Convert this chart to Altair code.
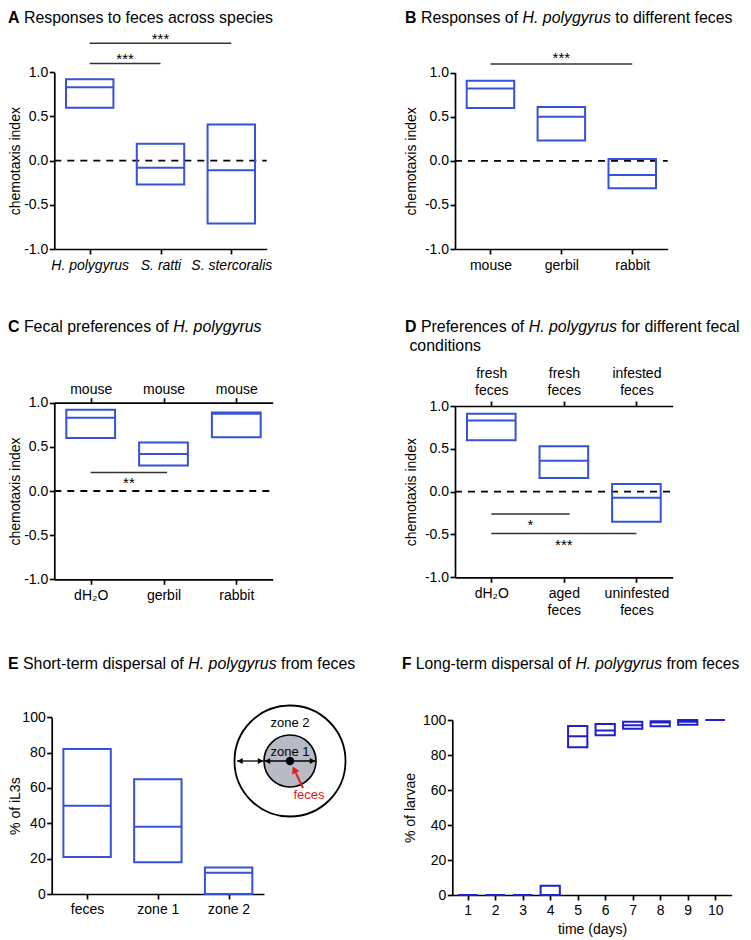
import json
import altair as alt
import pandas as pd

# ---------------- data ----------------
CI_TICKS = [-1.0, -0.5, 0.0, 0.5, 1.0]
PCT_TICKS = [0, 20, 40, 60, 80, 100]

A_labels = ["H. polygyrus", "S. ratti", "S. stercoralis"]
A_low = [0.60, -0.27, -0.71]
A_med = [0.83, -0.08, -0.11]
A_high = [0.92, 0.19, 0.41]
A_sig_from = [0, 0]
A_sig_to = [2, 1]
A_sig_level = [1.33, 1.10]
A_sig_text = ["***", "***"]

B_labels = ["mouse", "gerbil", "rabbit"]
B_low = [0.60, 0.23, -0.31]
B_med = [0.82, 0.50, -0.16]
B_high = [0.91, 0.61, 0.02]
B_sig_from = [0]
B_sig_to = [2]
B_sig_level = [1.10]
B_sig_text = ["***"]

C_labels = ["dH\u2082O", "gerbil", "rabbit"]
C_top_labels = ["mouse", "mouse", "mouse"]
C_low = [0.60, 0.29, 0.61]
C_med = [0.83, 0.42, 0.875]
C_high = [0.92, 0.55, 0.89]
C_sig_from = [0]
C_sig_to = [1.05]
C_sig_level = [0.21]
C_sig_text = ["**"]

D_labels = ["dH\u2082O", "aged\nfeces", "uninfested\nfeces"]
D_top_labels = ["fresh\nfeces", "fresh\nfeces", "infested\nfeces"]
D_low = [0.60, 0.16, -0.35]
D_med = [0.83, 0.36, -0.07]
D_high = [0.91, 0.53, 0.09]
D_sig_from = [0, 0]
D_sig_to = [1.08, 2]
D_sig_level = [-0.26, -0.49]
D_sig_text = ["*", "***"]

E_labels = ["feces", "zone 1", "zone 2"]
E_low = [21, 18, 0]
E_med = [50, 38, 12]
E_high = [82, 65, 15]

F_days = [1, 2, 3, 4, 5, 6, 7, 8, 9, 10]
F_low = [0, 0, 0, 0, 84.5, 91.3, 95.0, 96.5, 97.3, 100]
F_med = [0, 0, 0, 0, 90.7, 94.0, 97.0, 98.6, 99.0, 100]
F_high = [0, 0, 0, 5.3, 96.6, 97.7, 99.0, 99.3, 100, 100]

# ---------------- styling / layout ----------------
FONT = "Liberation Sans"
W, H = 735, 930
BLUE = "#3552d8"
BLUE_F = "#1f1fcf"

AX = dict(labelFont=FONT, labelFontSize=14, labelColor="black", tickColor="black",
          domainColor="black", domainWidth=1.7, tickWidth=1.7, tickSize=5, grid=False,
          labelOverlap=False, labelFlush=False, titleFont=FONT, titleFontSize=14,
          titleFontWeight="normal", titleColor="black")

CI_EXPR = "datum.value < 0 ? '-' + format(-datum.value, '.1f') : format(datum.value, '.1f')"


def cat_expr(labels):
    nested = [l.split("\n") for l in labels]
    return json.dumps(nested, ensure_ascii=False) + "[datum.value]"


def panel(cats, low, med, high, labels, xdom, xr, ydom, yr, yvals, ylabel_expr, ytitle,
          ytitle_cx, hw, color, xpad, italic=False, top_labels=None, top_pad=1.0,
          zero=True, sig=None, sig_dy=0, xtitle=None, xtitle_pos=None, extra=None):
    xs = alt.Scale(domain=xdom, range=xr, nice=False, zero=False)
    ys = alt.Scale(domain=ydom, range=yr, nice=False, zero=False)
    df = pd.DataFrame({"c": cats, "lo": low, "med": med, "hi": high})
    df["x0"] = df["c"] - hw
    df["x1"] = df["c"] + hw

    xk = dict(orient="bottom", offset=yr[0] - H, values=list(cats), labelPadding=xpad,
              labelLineHeight=17, **AX)
    if labels is not None:
        xk["labelExpr"] = cat_expr(labels)
    else:
        xk["format"] = "d"
    if italic:
        xk["labelFontStyle"] = "italic"
    if xtitle is not None:
        xk.update(titleX=xtitle_pos[0], titleY=xtitle_pos[1], titleBaseline="middle",
                  titleAlign="center")
    xaxis = alt.Axis(**xk)

    yk = dict(orient="left", offset=-xr[0], values=yvals, labelPadding=1.5,
              titleX=ytitle_cx - xr[0], titleY=(yr[0] + yr[1]) / 2, titleAngle=270,
              titleBaseline="middle", titleAlign="center", **AX)
    if ylabel_expr:
        yk["labelExpr"] = ylabel_expr
    else:
        yk["format"] = "d"
    yaxis = alt.Axis(**yk)

    layers = []
    if zero:
        zdf = pd.DataFrame({"a": [xdom[0]], "b": [xdom[1]], "y": [0.0]})
        layers.append(alt.Chart(zdf).mark_rule(color="black", strokeWidth=1.8, strokeDash=[7, 6]).encode(
            x=alt.X("a:Q", scale=xs, axis=None), x2="b:Q", y=alt.Y("y:Q", scale=ys, axis=None)))

    layers.append(alt.Chart(df).mark_rect(fillOpacity=0, stroke=color, strokeWidth=2).encode(
        x=alt.X("x0:Q", scale=xs, axis=xaxis, title=xtitle), x2="x1:Q",
        y=alt.Y("lo:Q", scale=ys, axis=yaxis, title=ytitle), y2="hi:Q"))

    if top_labels is not None:
        taxis = alt.Axis(orient="top", offset=-yr[1], values=list(cats), labelPadding=top_pad,
                         labelLineHeight=17, labelExpr=cat_expr(top_labels), **AX)
        mx = alt.X("x0:Q", scale=xs, axis=taxis, title=None)
    else:
        mx = alt.X("x0:Q", scale=xs, axis=None)
    layers.append(alt.Chart(df).mark_rule(color=color, strokeWidth=2).encode(
        x=mx, x2="x1:Q", y=alt.Y("med:Q", scale=ys, axis=None)))

    if sig is not None:
        sdf = pd.DataFrame({"a": sig[0], "b": sig[1], "lvl": sig[2], "txt": sig[3]})
        sdf["mid"] = (sdf["a"] + sdf["b"]) / 2
        layers.append(alt.Chart(sdf).mark_rule(color="#333333", strokeWidth=1.5).encode(
            x=alt.X("a:Q", scale=xs, axis=None), x2="b:Q", y=alt.Y("lvl:Q", scale=ys, axis=None)))
        layers.append(alt.Chart(sdf).mark_text(font=FONT, fontSize=15, color="black",
                                               baseline="alphabetic", align="center", dy=sig_dy).encode(
            x=alt.X("mid:Q", scale=xs, axis=None), y=alt.Y("lvl:Q", scale=ys, axis=None), text="txt:N"))
    if extra is not None:
        layers.extend(extra(xs, ys))
    return alt.layer(*layers).resolve_axis(x="independent", y="independent")


# ---------------- panel geometry (canvas px) ----------------
CAT3 = [0, 1, 2]
DOM3 = [-0.5, 2.5]

pA = panel(CAT3, A_low, A_med, A_high, A_labels, DOM3, [46.3, 258.7], [-1, 1], [241.0, 64.3],
           CI_TICKS, CI_EXPR, "chemotaxis index", 7.5, 0.335, BLUE, 4, italic=True,
           sig=(A_sig_from, A_sig_to, A_sig_level, A_sig_text), sig_dy=1)
pB = panel(CAT3, B_low, B_med, B_high, B_labels, DOM3, [447.0, 659.7], [-1, 1], [241.0, 64.7],
           CI_TICKS, CI_EXPR, "chemotaxis index", 403.7, 0.335, BLUE, 4,
           sig=(B_sig_from, B_sig_to, B_sig_level, B_sig_text), sig_dy=-1)
pC = panel(CAT3, C_low, C_med, C_high, C_labels, DOM3, [46.3, 264.7], [-1, 1], [571.3, 394.7],
           CI_TICKS, CI_EXPR, "chemotaxis index", 7.5, 0.335, BLUE, 4, top_labels=C_top_labels,
           top_pad=1, sig=(C_sig_from, C_sig_to, C_sig_level, C_sig_text), sig_dy=16)
pD = panel(CAT3, D_low, D_med, D_high, D_labels, DOM3, [447.0, 664.7], [-1, 1], [569.3, 398.0],
           CI_TICKS, CI_EXPR, "chemotaxis index", 403.7, 0.335, BLUE, 4, top_labels=D_top_labels,
           top_pad=20.5, sig=(D_sig_from, D_sig_to, D_sig_level, D_sig_text), sig_dy=16)

E_XR, E_YR = [43.7, 256.0], [886.0, 709.3]


def e_diagram(xs, ys):
    kx = (E_XR[1] - E_XR[0]) / (DOM3[1] - DOM3[0])
    ky = (E_YR[0] - E_YR[1]) / 100.0
    ccx, ccy = 282.0, 753.0  # canvas centre of the sketch
    cx = DOM3[0] + (ccx - E_XR[0]) / kx
    cy = (E_YR[0] - ccy) / ky

    def ux(p):
        return cx + p / kx

    def uy(p):
        return cy - p / ky

    X = lambda f: alt.X(f, scale=xs, axis=None)
    Y = lambda f: alt.Y(f, scale=ys, axis=None)
    c = pd.DataFrame({"x": [cx], "y": [cy]})
    out = [
        alt.Chart(c).mark_point(shape="circle", size=12321, filled=False, color="black",
                                strokeWidth=1.8, opacity=1).encode(x=X("x:Q"), y=Y("y:Q")),
        alt.Chart(c).mark_point(shape="circle", size=2704, filled=True, fill="#b8bac6",
                                stroke="black", strokeWidth=1.6, opacity=1).encode(x=X("x:Q"), y=Y("y:Q")),
    ]
    arr = pd.DataFrame({"a": [ux(-53), ux(-25.5)], "b": [ux(-26.5), ux(25.5)], "y": [cy, cy]})
    out.append(alt.Chart(arr).mark_rule(color="black", strokeWidth=1.3).encode(
        x=X("a:Q"), x2="b:Q", y=Y("y:Q")))
    heads = pd.DataFrame({"x": [ux(-50), ux(-29.5), ux(-22.5), ux(22.5)], "y": [cy] * 4,
                          "s": ["triangle-left", "triangle-right", "triangle-left", "triangle-right"]})
    out.append(alt.Chart(heads).mark_point(filled=True, color="black", size=38, opacity=1).encode(
        x=X("x:Q"), y=Y("y:Q"), shape=alt.Shape("s:N", scale=None, legend=None)))
    out.append(alt.Chart(c).mark_point(shape="circle", size=70, filled=True, color="black",
                                       opacity=1).encode(x=X("x:Q"), y=Y("y:Q")))
    red = pd.DataFrame({"a": [ux(13)], "b": [ux(4.2)], "y": [uy(27)], "y2": [uy(8.6)]})
    out.append(alt.Chart(red).mark_rule(color="#e0201b", strokeWidth=2).encode(
        x=X("a:Q"), x2="b:Q", y=Y("y:Q"), y2="y2:Q"))
    rh = pd.DataFrame({"x": [ux(4.2)], "y": [uy(8.6)]})
    out.append(alt.Chart(rh).mark_point(shape="triangle-up", filled=True, color="#e0201b", size=64,
                                        angle=334.5, opacity=1).encode(x=X("x:Q"), y=Y("y:Q")))
    txt = pd.DataFrame({"x": [ux(0), ux(0)], "y": [uy(-38), uy(-9.5)], "t": ["zone 2", "zone 1"]})
    out.append(alt.Chart(txt).mark_text(font=FONT, fontSize=13, color="black", align="center",
                                        baseline="middle").encode(x=X("x:Q"), y=Y("y:Q"), text="t:N"))
    ft = pd.DataFrame({"x": [ux(19)], "y": [uy(33.5)], "t": ["feces"]})
    out.append(alt.Chart(ft).mark_text(font=FONT, fontSize=13, color="#e0201b", align="center",
                                       baseline="middle").encode(x=X("x:Q"), y=Y("y:Q"), text="t:N"))
    return out


pE = panel(CAT3, E_low, E_med, E_high, E_labels, DOM3, E_XR, [0, 100], E_YR,
           PCT_TICKS, None, "% of iL3s", 7.5, 0.335, BLUE, 3, zero=False, extra=e_diagram)
pF = panel(F_days, F_low, F_med, F_high, None, [0.44, 10.6], [444.3, 723.7], [0, 100], [887.0, 712.0],
           PCT_TICKS, None, "% of larvae", 402.8, 0.35, BLUE_F, 3.5, zero=False,
           xtitle="time (days)", xtitle_pos=[584.0, 34.3])

# ---------------- panel titles (mixed styles) ----------------
HELV = {" ": 278, ".": 278, "-": 333, "a": 556, "b": 556, "c": 500, "d": 556, "e": 556, "f": 278,
        "g": 556, "h": 556, "i": 222, "j": 222, "k": 500, "l": 222, "m": 833, "n": 556, "o": 556,
        "p": 556, "q": 556, "r": 333, "s": 500, "t": 278, "u": 556, "v": 500, "w": 722, "x": 500,
        "y": 500, "z": 500, "H": 722, "L": 556, "P": 667, "R": 722, "S": 667, "F": 611}
HELV_B = {"A": 722, "B": 722, "C": 722, "D": 722, "E": 667, "F": 611}


def tw(s, size, bold=False):
    return sum((HELV_B[ch] if bold and ch in HELV_B else HELV.get(ch, 556)) for ch in s) * size / 1000


# (x, baseline y, font size, segments)
TITLES = [
    (0, 14.5, 15.9, [("A", "bold"), (" Responses to feces across species", "normal")]),
    (397, 14.5, 15.9, [("B", "bold"), (" Responses of ", "normal"), ("H. polygyrus", "italic"),
                       (" to different feces", "normal")]),
    (0, 324, 15.9, [("C", "bold"), (" Fecal preferences of ", "normal"), ("H. polygyrus", "italic")]),
    (397, 324, 15.9, [("D", "bold"), (" Preferences of ", "normal"), ("H. polygyrus", "italic"),
                      (" for different fecal", "normal")]),
    (397, 342.7, 15.9, [(" conditions", "normal")]),
    (0, 661, 15.9, [("E", "bold"), (" Short-term dispersal of ", "normal"), ("H. polygyrus", "italic"),
                    (" from feces", "normal")]),
    (394, 661, 15.6, [("F", "bold"), (" Long-term dispersal of ", "normal"), ("H. polygyrus", "italic"),
                      (" from feces", "normal")]),
]
rows = []
for x0, y0, size, segs in TITLES:
    cur = x0
    for text, style in segs:
        body = text.strip(" ")
        lead = len(text) - len(text.lstrip(" "))
        trail = len(text) - len(text.rstrip(" "))
        cur += tw(" " * lead, size)
        rows.append({"px": cur, "py": y0, "t": body, "style": style, "fs": size})
        cur += tw(body, size, style == "bold") + tw(" " * trail, size)
tdf = pd.DataFrame(rows)


def title_layer(style, weight, fstyle):
    return alt.Chart(tdf).transform_filter(alt.datum.style == style).mark_text(
        font=FONT, fontWeight=weight, fontStyle=fstyle, color="black",
        align="left", baseline="alphabetic").encode(
        x=alt.X("px:Q", scale=None, axis=None), y=alt.Y("py:Q", scale=None, axis=None),
        text="t:N", size=alt.Size("fs:Q", scale=None, legend=None))


titles = alt.layer(title_layer("bold", "bold", "normal"), title_layer("normal", "normal", "normal"),
                   title_layer("italic", "normal", "italic"))

chart = alt.layer(pA, pB, pC, pD, pE, pF, titles).resolve_scale(
    x="independent", y="independent").properties(
    width=W, height=H, padding=0, autosize=alt.AutoSizeParams(type="none"),
    background="white").configure_view(strokeWidth=0)

chart.save("out.html", embed_options={"renderer": "svg", "actions": False})
